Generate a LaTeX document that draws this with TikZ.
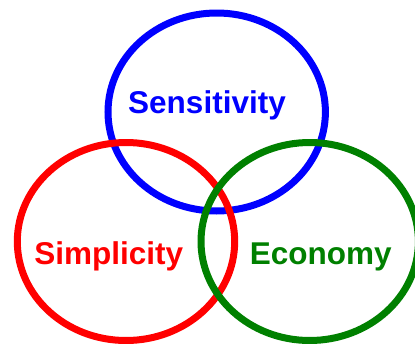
\documentclass[tikz,border=0pt]{standalone}
\usepackage{fontspec}
\setmainfont{Liberation Sans}
\usepackage[HTML]{xcolor}
\usepackage{tikz}
\usetikzlibrary{positioning}

\definecolor{senblue}{HTML}{0000FF}
\definecolor{simred}{HTML}{FF0000}
\definecolor{ecogreen}{HTML}{008000}

\tikzset{
  ring/.style={line width=7pt},
  word/.style={font=\fontsize{31.5}{36}\selectfont\bfseries, inner sep=0pt, anchor=base}
}

\begin{document}
\begin{tikzpicture}[x=1pt,y=-1pt]
\useasboundingbox (0,0) rectangle (415,343);
\clip (0,0) rectangle (415,343);

\draw[ring,senblue] (216.7,112) ellipse (108.7 and 99);
\draw[ring,simred] (126,241.5) ellipse (108.7 and 99);
\draw[ring,ecogreen] (309.7,241.5) ellipse (108.7 and 99);

\node[word,text=senblue] (sen) at (207,113.5) {Sensitivity};
\node[word,text=simred] (sim) at (108.8,264.3) {Simplicity};
\node[word,text=ecogreen] (eco) at (320.8,264.3) {Economy};
\end{tikzpicture}
\end{document}
